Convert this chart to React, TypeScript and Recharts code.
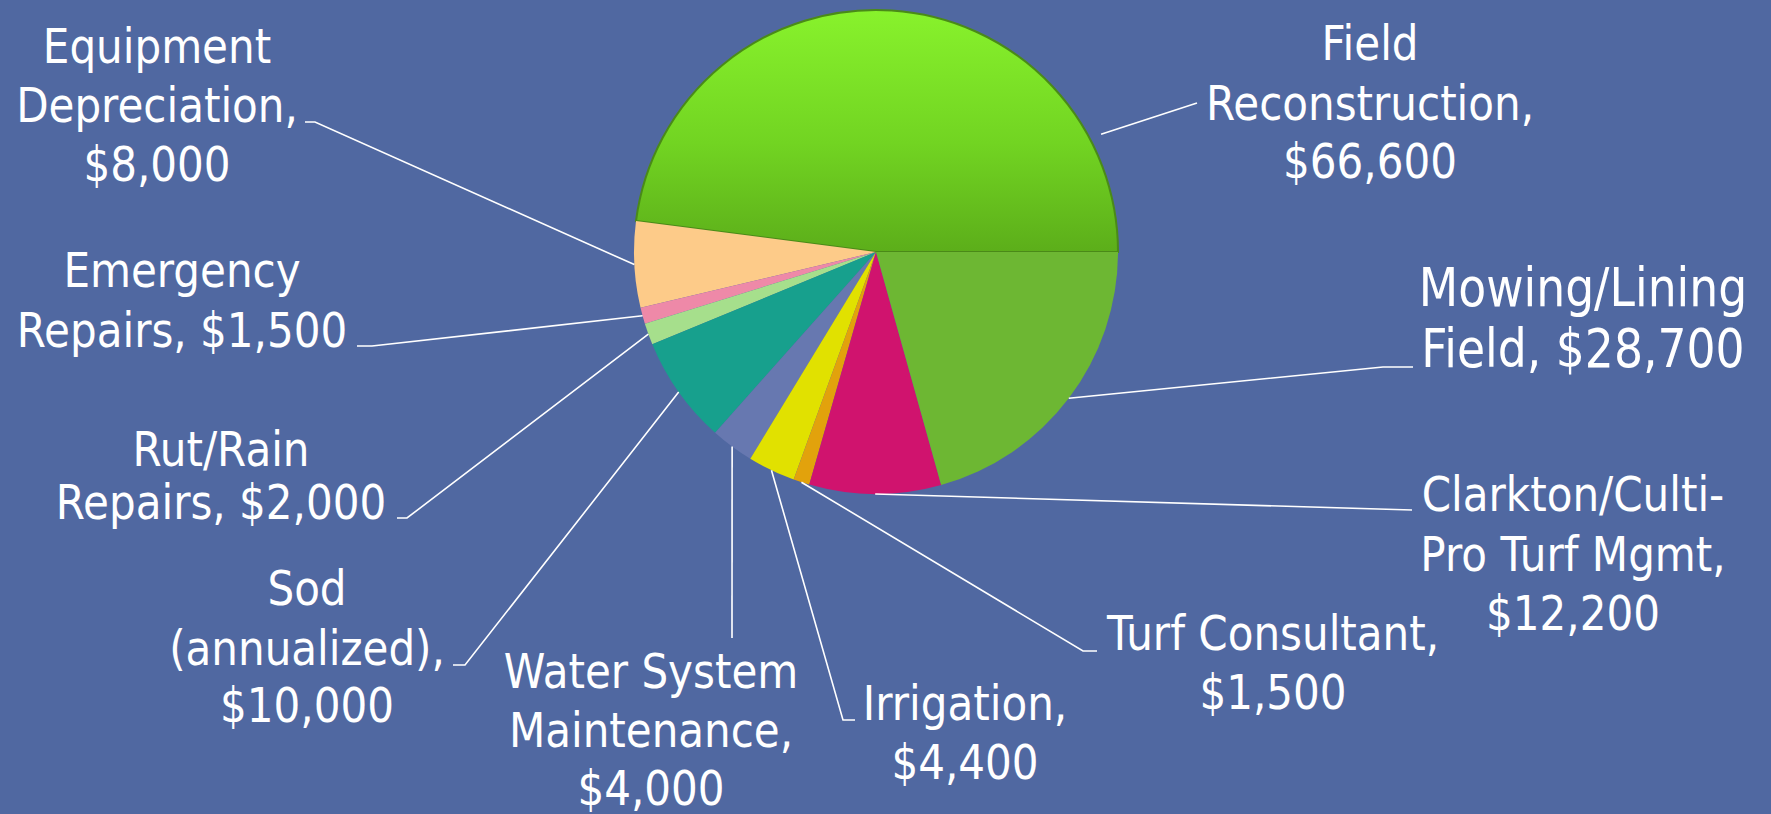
import React from 'react';
import { PieChart, Pie, Cell } from 'recharts';

// slice order follows the picture, counter-clockwise from 3 o'clock
const categories = [
  'Field Reconstruction',
  'Equipment Depreciation',
  'Emergency Repairs',
  'Rut/Rain Repairs',
  'Sod (annualized)',
  'Water System Maintenance',
  'Irrigation',
  'Turf Consultant',
  'Clarkton/Culti-Pro Turf Mgmt',
  'Mowing/Lining Field',
];

const costs = [66600, 8000, 1500, 2000, 10000, 4000, 4400, 1500, 12200, 28700];

// label text broken into lines as on the slide; {v} is the formatted value
const labelLines = [
  ['Field', 'Reconstruction,', '{v}'],
  ['Equipment', 'Depreciation,', '{v}'],
  ['Emergency', 'Repairs, {v}'],
  ['Rut/Rain', 'Repairs, {v}'],
  ['Sod', '(annualized),', '{v}'],
  ['Water System', 'Maintenance,', '{v}'],
  ['Irrigation,', '{v}'],
  ['Turf Consultant,', '{v}'],
  ['Clarkton/Culti-', 'Pro Turf Mgmt,', '{v}'],
  ['Mowing/Lining', 'Field, {v}'],
];

const colors = [
  'url(#fieldGrad)',
  '#fdcb89',
  '#ee89a8',
  '#a6df8c',
  '#17a08d',
  '#6778b0',
  '#e1e100',
  '#e2a20c',
  '#d0136e',
  '#6db733',
];

const data = categories.map((name, i) => ({ name, value: costs[i] }));

// where each label sits and how its leader line bends
type Layout = {
  x: number;
  baselines: number[];
  size?: number;
  elbow: [number, number];
  end: [number, number];
  at?: number;
  gap?: number;
};

const layout: Layout[] = [
  { x: 1370, baselines: [60, 120, 178], elbow: [1197, 103], end: [1197, 103], at: 0.16, gap: 12 },
  { x: 157, baselines: [63, 122, 181], elbow: [315, 122], end: [305, 122] },
  { x: 182, baselines: [287, 347], elbow: [372, 346], end: [357, 346] },
  { x: 221, baselines: [466, 519], elbow: [407, 518], end: [397, 518] },
  { x: 307, baselines: [605, 665, 722], elbow: [465, 665], end: [453, 665] },
  { x: 651, baselines: [688, 747, 805], elbow: [732, 638], end: [732, 638] },
  { x: 965, baselines: [720, 779], elbow: [843, 720], end: [855, 720] },
  { x: 1273, baselines: [650, 709], elbow: [1083, 651], end: [1097, 651] },
  { x: 1573, baselines: [511, 571, 630], elbow: [1412, 510], end: [1412, 510] },
  { x: 1583, baselines: [306, 367], size: 53, elbow: [1383, 367], end: [1413, 367] },
];

const RAD = Math.PI / 180;
const FONT = '"DejaVu Sans", Tahoma, sans-serif';
const SQUEEZE = 0.862;

const fmt = (v: number) => `$${v.toLocaleString('en-US')}`;

const renderLabel = (props: any) => {
  const { cx, cy, outerRadius, startAngle, endAngle, midAngle, index, value } = props;
  const lay = layout[index];
  const t = lay.at ?? 0.5;
  const ang =
    startAngle !== undefined && endAngle !== undefined
      ? startAngle + (endAngle - startAngle) * t
      : midAngle;
  const r = outerRadius + (lay.gap ?? 0);
  const sx = cx + r * Math.cos(-ang * RAD);
  const sy = cy + r * Math.sin(-ang * RAD);
  const lines = labelLines[index].map((l) => l.replace('{v}', fmt(value)));
  const size = lay.size ?? 48.8;
  return (
    <g key={`lbl-${index}`}>
      <polyline
        points={`${sx},${sy} ${lay.elbow[0]},${lay.elbow[1]} ${lay.end[0]},${lay.end[1]}`}
        fill="none"
        stroke="#ffffff"
        strokeWidth={1.6}
      />
      {lines.map((line, j) => (
        <text
          key={j}
          transform={`translate(${lay.x},${lay.baselines[j]}) scale(${SQUEEZE},1)`}
          x={0}
          y={0}
          textAnchor="middle"
          fill="#ffffff"
          fontFamily={FONT}
          fontSize={size}
        >
          {line}
        </text>
      ))}
    </g>
  );
};

const App: React.FC = () => {
  return (
    <div
      style={{
        position: 'absolute',
        left: 0,
        top: 0,
        width: 1771,
        height: 814,
        overflow: 'hidden',
        background: '#5068a1',
      }}
    >
      <svg width={0} height={0} style={{ position: 'absolute' }}>
        <defs>
          <linearGradient id="fieldGrad" x1="0" y1="0" x2="0" y2="1">
            <stop offset="0%" stopColor="#88f22c" />
            <stop offset="55%" stopColor="#72d422" />
            <stop offset="100%" stopColor="#5cae1a" />
          </linearGradient>
        </defs>
      </svg>
      <PieChart width={1771} height={814} margin={{ top: 0, right: 0, bottom: 0, left: 0 }}>
        <Pie
          data={data}
          dataKey="value"
          nameKey="name"
          cx={876}
          cy={252}
          outerRadius={242}
          startAngle={0}
          endAngle={360}
          stroke="none"
          label={renderLabel}
          labelLine={false}
          isAnimationActive={false}
        >
          {data.map((d, i) => (
            <Cell
              key={d.name}
              fill={colors[i]}
              stroke={i === 0 ? '#4a8a18' : 'none'}
              strokeWidth={i === 0 ? 2 : 0}
            />
          ))}
        </Pie>
      </PieChart>
    </div>
  );
};

export default App;
